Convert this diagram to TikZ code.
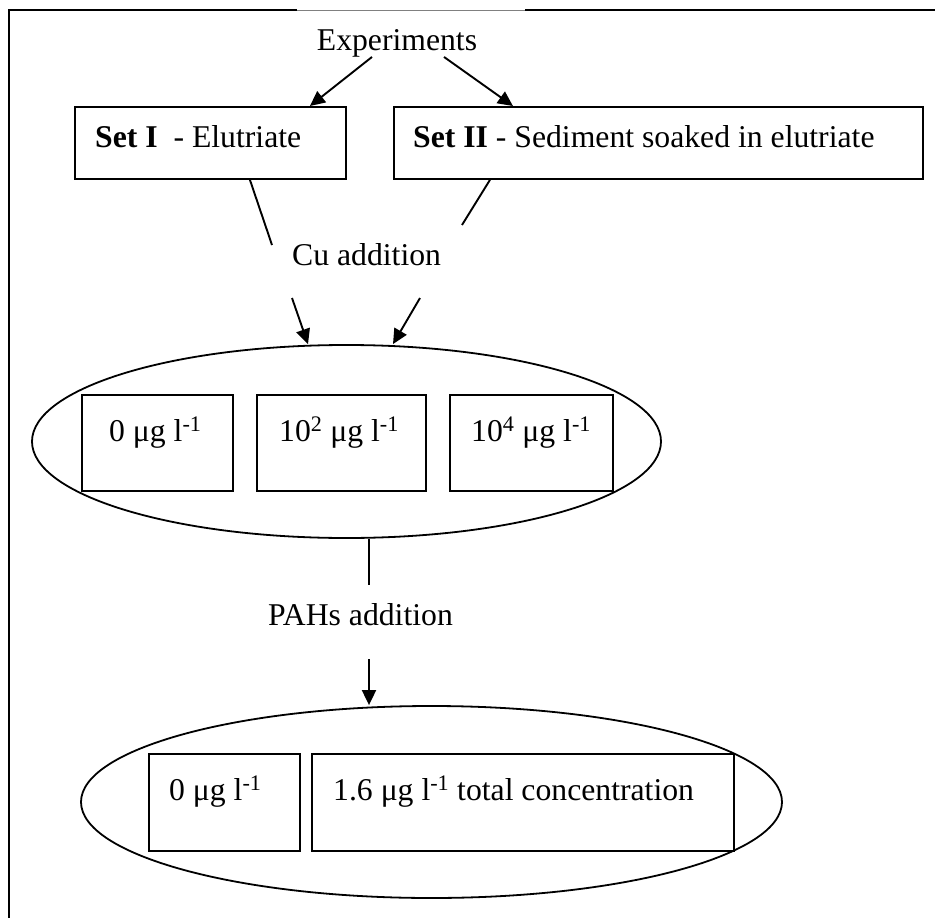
\documentclass[tikz,border=0pt]{standalone}
\usepackage{fontspec}
\setmainfont{Liberation Serif}
\usetikzlibrary{shapes.geometric,arrows.meta}
\begin{document}
\begin{tikzpicture}[x=1pt,y=-1pt,
  lbl/.style={inner sep=0pt,font=\fontsize{31.7}{38}\selectfont},
  boxx/.style={draw,line width=1.9pt,inner sep=0pt,anchor=north west},
  ell/.style={draw,ellipse,line width=1.8pt,inner sep=0pt},
  arr/.style={line width=1.9pt,-{Triangle[length=15pt,width=14pt]}},
  ln/.style={line width=1.9pt},
  framel/.style={line width=2pt}]
\useasboundingbox (0,0) rectangle (935,918);
% frame
\coordinate (f1) at (9,918);
\coordinate (f2) at (9,10);
\coordinate (f3) at (297,10);
\coordinate (f4) at (525,10);
\coordinate (f5) at (935,10);
\draw[framel] (f1) -- (f2) -- (f3);
\draw[framel] (f4) -- (f5);
\draw[gray,line width=0.8pt] (f3) -- (f4);
% ellipses
\node[ell,minimum width=629pt,minimum height=193pt] (e1) at (346.5,441.5) {};
\node[ell,minimum width=701pt,minimum height=192pt] (e2) at (431.5,802) {};
% boxes
\node[boxx,minimum width=271pt,minimum height=72pt] (s1) at (74,106) {};
\node[boxx,minimum width=529pt,minimum height=72pt] (s2) at (393,106) {};
\node[boxx,minimum width=151pt,minimum height=96pt] (c1) at (81,394) {};
\node[boxx,minimum width=169pt,minimum height=96pt] (c2) at (256,394) {};
\node[boxx,minimum width=163pt,minimum height=96pt] (c3) at (449,394) {};
\node[boxx,minimum width=151pt,minimum height=97pt] (p1) at (148,753) {};
\node[boxx,minimum width=422pt,minimum height=97pt] (p2) at (311,753) {};
% texts
\node[lbl,anchor=base] (exp) at (397,50) {Experiments};
\node[lbl,anchor=base west] (t1) at (95,147) {\textbf{Set I}\ \ - Elutriate};
\node[lbl,anchor=base west] (t2) at (413,147) {\textbf{Set II} - Sediment soaked in elutriate};
\node[lbl,anchor=base west] (cu) at (292,265) {Cu addition};
\node[lbl,anchor=base west] (pah) at (268,625) {PAHs addition};
\node[lbl,anchor=base west] (c1t) at (109,441) {0 μg l\textsuperscript{-1}};
\node[lbl,anchor=base west] (c2t) at (279,441) {10\textsuperscript{2} μg l\textsuperscript{-1}};
\node[lbl,anchor=base west] (c3t) at (471,441) {10\textsuperscript{4} μg l\textsuperscript{-1}};
\node[lbl,anchor=base west] (p1t) at (169,800) {0 μg l\textsuperscript{-1}};
\node[lbl,anchor=base west] (p2t) at (333,800) {1.6 μg l\textsuperscript{-1} total concentration};
% connectors
\draw[arr] ([xshift=-25pt]exp.south) -- ([xshift=99.5pt]s1.north);
\draw[arr] ([xshift=47pt]exp.south) -- ([xshift=-145.5pt]s2.north);
\coordinate (q1) at (272,245);
\coordinate (q2) at (462,225);
\draw[ln] ([xshift=39.5pt]s1.south) -- (q1);
\draw[ln] ([xshift=-168.5pt]s2.south) -- (q2);
\coordinate (q3) at (292,298);
\coordinate (q4) at (420,298);
\draw[arr] (q3) -- ([xshift=-38.5pt]e1.north);
\draw[arr] (q4) -- ([xshift=46.5pt]e1.north);
\coordinate (q5) at (369,585);
\draw[ln] ([xshift=22.5pt]e1.south) -- (q5);
\coordinate (q6) at (369,659);
\draw[arr] (q6) -- ([xshift=-62.5pt]e2.north);
\end{tikzpicture}
\end{document}
